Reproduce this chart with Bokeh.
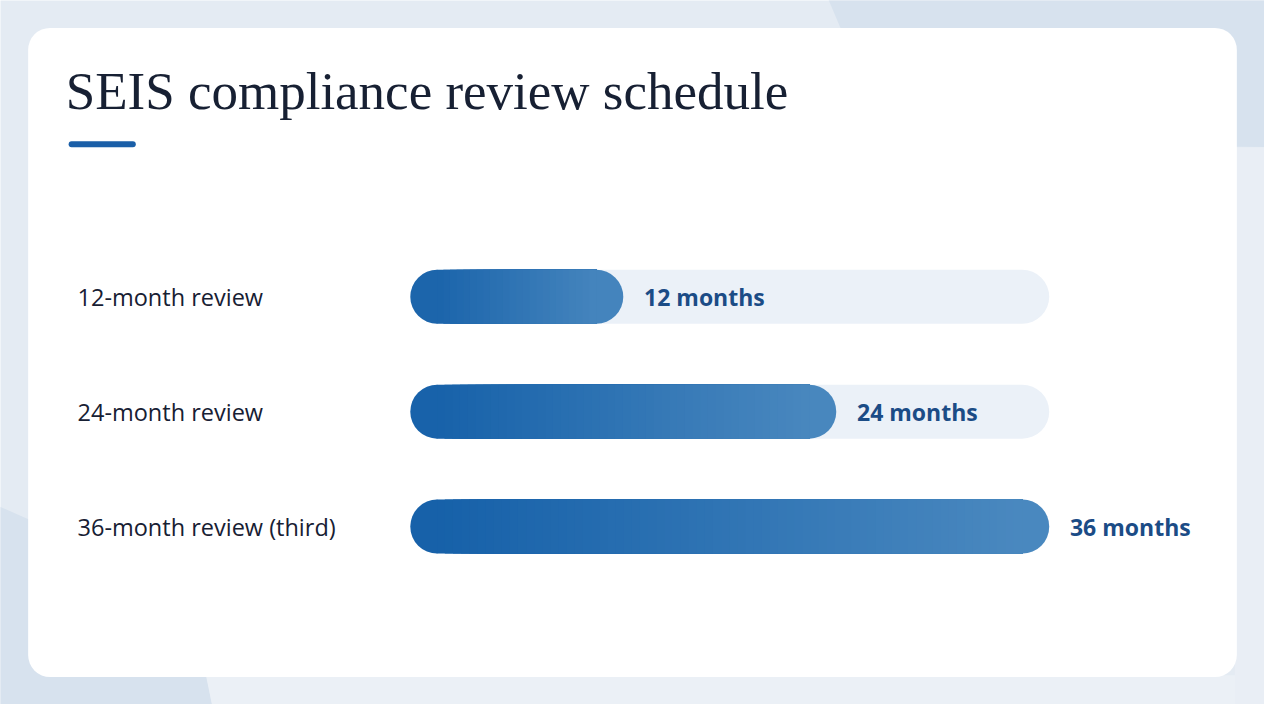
from bokeh.plotting import figure
from bokeh.models import Range1d, ColumnDataSource
from bokeh.core.properties import value
from bokeh.embed import file_html
from bokeh.resources import INLINE

# ---- data ----
categories = ["12-month review", "24-month review", "36-month review (third)"]
months = [12, 24, 36]
value_labels = ["12 months", "24 months", "36 months"]
title_text = "SEIS compliance review schedule"

# ---- layout ----
W, H = 1264, 704
SX, SY = W / 1280.0, H / 720.0          # design grid is 1280x720
BAR_X0, BAR_X1 = 415 * SX, 1062 * SX     # pixels: start of bars / end of full track
PPM = (BAR_X1 - BAR_X0) / 36.0           # pixels per month
ROW0_PX = 303 * SY
ROW_PX = 117.5 * SY
BAR_PX = 54
RAD = 27

xr = Range1d(-BAR_X0 / PPM, (W - BAR_X0) / PPM)
yr = Range1d((H - ROW0_PX) / ROW_PX, -ROW0_PX / ROW_PX)


def dx(px):  # design-grid x pixel -> data
    return xr.start + px * SX / PPM


def dy(py):  # design-grid y pixel -> data
    return yr.end + py * SY / ROW_PX


p = figure(width=W, height=H, x_range=xr, y_range=yr, output_backend="svg",
           toolbar_location=None, min_border=0)
p.axis.visible = False
p.grid.visible = False
p.outline_line_color = None
p.background_fill_color = "#e4ebf3"
p.border_fill_color = "#e4ebf3"

# background decoration
DARK = "#d7e2ee"
tr = [(838, -2), (1284, -2), (1284, 150), (900, 146)]
bl = [(-2, 517), (192, 604), (215, 724), (-2, 724)]
for poly in (tr, bl):
    p.patch([dx(a) for a, b in poly], [dy(b) for a, b in poly],
            fill_color=DARK, line_color=None)
light_br = [(215, 724), (208, 690), (1284, 690), (1284, 724)]
p.patch([dx(a) for a, b in light_br], [dy(b) for a, b in light_br],
        fill_color="#ebf0f6", line_color=None)
light_r = [(1250, 150), (1284, 150), (1284, 724), (1250, 724)]
p.patch([dx(a) for a, b in light_r], [dy(b) for a, b in light_r],
        fill_color="#e9eef5", line_color=None)

# card
p.quad(left=dx(28), right=dx(1252), top=dy(28), bottom=dy(692),
       fill_color="white", line_color=None, border_radius=22)

# title + accent
p.text(x=[dx(66)], y=[dy(93)], text=[title_text], text_font=value("Liberation Serif"),
       text_font_size="53px", text_color="#172033", text_baseline="alphabetic")
p.quad(left=dx(69), right=dx(137), top=dy(144), bottom=dy(150),
       fill_color="#1a5fa8", line_color=None, border_radius=3)

rows = list(range(len(categories)))
max_m = max(months)
bar_h = BAR_PX / ROW_PX
r = RAD / PPM

# tracks
p.hbar(y=rows, left=0, right=[max_m] * len(rows), height=bar_h,
       fill_color="#ebf1f8", line_color=None, border_radius=RAD)

# gradient bars
C0 = (0x14, 0x5f, 0xa8)
C1 = (0x4c, 0x8a, 0xc0)


def col(t):
    t = max(0.0, min(1.0, t))
    return "#%02x%02x%02x" % tuple(int(round(a + (b - a) * t)) for a, b in zip(C0, C1))


eps = 0.6 / PPM
for i, m in zip(rows, months):
    n = int(m * 2)
    step = (m - 2 * r) / n
    lefts = [r - eps + k * step for k in range(n)]
    cols = [col((l + step / 2) / m) for l in lefts]
    rights = [m - r + eps] * n    # overlapping strips, painted left to right: no seams
    p.hbar(y=[i] * n, left=lefts, right=rights, height=bar_h, fill_color=cols,
           line_color=None)
    # rounded half-caps
    p.hbar(y=[i], left=[0], right=[r], height=bar_h, fill_color=cols[0],
           line_color=None, border_radius=(RAD, 0, 0, RAD))
    p.hbar(y=[i], left=[m - r], right=[m], height=bar_h, fill_color=cols[-1],
           line_color=None, border_radius=(0, RAD, RAD, 0))

# labels
src = ColumnDataSource(dict(y=rows, cat=categories, m=months, vl=value_labels,
                            lx=[dx(78)] * len(rows),
                            vx=[mm + 21 * SX / PPM for mm in months]))
p.text(x="lx", y="y", text="cat", source=src, text_font=value("Open Sans"),
       text_font_size="23.5px", text_color="#172033", text_baseline="middle")
p.text(x="vx", y="y", text="vl", source=src, text_font=value("Open Sans"),
       text_font_style="bold", text_font_size="23px", text_color="#1b4c86",
       text_baseline="middle")

open("out.html", "w").write(file_html(p, INLINE))
